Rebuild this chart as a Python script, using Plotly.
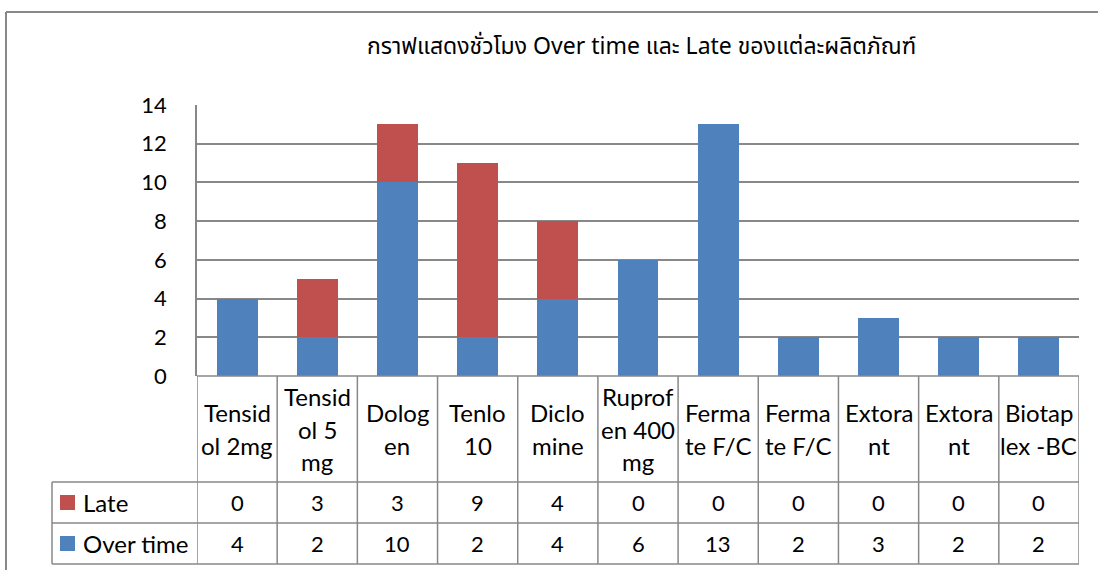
import plotly.graph_objects as go

# ---------------- data ----------------
categories = ["Tensid<br>ol 2mg", "Tensid<br>ol 5<br>mg", "Dolog<br>en", "Tenlo<br>10",
              "Diclo<br>mine", "Ruprof<br>en 400<br>mg", "Ferma<br>te F/C", "Ferma<br>te F/C",
              "Extora<br>nt", "Extora<br>nt", "Biotap<br>lex -BC"]
overtime = [4, 2, 10, 2, 4, 6, 13, 2, 3, 2, 2]
late = [0, 3, 3, 9, 4, 0, 0, 0, 0, 0, 0]
series_names = ["Late", "Over time"]
y_ticks = [0, 2, 4, 6, 8, 10, 12, 14]
title_text = "กราฟแสดงชั่วโมง Over time และ Late ของแต่ละผลิตภัณฑ์"

# ---------------- style ----------------
W, H = 1098, 570
BLUE = "#4F81BD"
RED = "#C0504D"
GRID = "#888888"
FONT = "Lato, Open Sans, sans-serif"
THAI = "Noto Sans Thai, Noto Sans, Tahoma, DejaVu Sans, sans-serif"


def py(p):  # pixel y -> paper y
    return 1 - p / H


def px(p):  # pixel x -> paper x
    return p / W


x_left, x_right = 197, 1079
y_top, y_zero = 105, 376
hdr_bot, late_bot, ot_bot = 482, 523, 564
leg_left = 52

xs = list(range(len(categories)))

fig = go.Figure()
fig.add_trace(go.Bar(x=xs, y=overtime, name=series_names[1], marker=dict(color=BLUE, line=dict(width=0))))
fig.add_trace(go.Bar(x=xs, y=late, name=series_names[0], marker=dict(color=RED, line=dict(width=0))))

shapes = []
annotations = []

# outer chart frame
shapes.append(dict(type="line", xref="paper", yref="paper", x0=px(6), x1=1.0, y0=py(12), y1=py(12),
                   line=dict(color=GRID, width=2)))
shapes.append(dict(type="line", xref="paper", yref="paper", x0=px(6), x1=px(6), y0=py(12), y1=0,
                   line=dict(color=GRID, width=2)))

# table horizontal lines
shapes.append(dict(type="line", xref="x", yref="paper", x0=-0.5, x1=len(xs) - 0.5, y0=py(y_zero), y1=py(y_zero),
                   line=dict(color=GRID, width=1.5)))
for yy in [hdr_bot, late_bot, ot_bot]:
    shapes.append(dict(type="line", xref="paper", yref="paper", x0=px(leg_left), x1=px(x_right),
                       y0=py(yy), y1=py(yy), line=dict(color=GRID, width=1.5)))
# table vertical lines
for i in range(len(xs) + 1):
    shapes.append(dict(type="line", xref="x", yref="paper", x0=i - 0.5, x1=i - 0.5,
                       y0=py(y_zero), y1=py(ot_bot), line=dict(color=GRID, width=1.5)))
shapes.append(dict(type="line", xref="paper", yref="paper", x0=px(leg_left), x1=px(leg_left),
                   y0=py(hdr_bot), y1=py(ot_bot), line=dict(color=GRID, width=1.5)))

# header category labels (line by line)
hdr_center = (y_zero + hdr_bot) / 2
spacing = 32.5
for i, lab in enumerate(categories):
    lines = lab.split("<br>")
    n = len(lines)
    for k, ln in enumerate(lines):
        yc = hdr_center + (k - (n - 1) / 2) * spacing
        annotations.append(dict(x=i, y=py(yc), xref="x", yref="paper", text=ln, showarrow=False,
                                xanchor="center", yanchor="middle",
                                font=dict(family=FONT, size=24, color="black")))

# row values and legend keys
rows = [(late, series_names[0], RED, (hdr_bot + late_bot) / 2),
        (overtime, series_names[1], BLUE, (late_bot + ot_bot) / 2)]
for vals, name, col, yc in rows:
    for i, v in enumerate(vals):
        annotations.append(dict(x=i, y=py(yc), xref="x", yref="paper", text=str(v), showarrow=False,
                                xanchor="center", yanchor="middle",
                                font=dict(family=FONT, size=22, color="black")))
    shapes.append(dict(type="rect", xref="paper", yref="paper", x0=px(60), x1=px(75),
                       y0=py(yc - 7.5), y1=py(yc + 7.5), fillcolor=col, line=dict(width=0)))
    annotations.append(dict(x=px(81), y=py(yc), xref="paper", yref="paper", text=name, showarrow=False,
                            xanchor="left", yanchor="middle",
                            font=dict(family=FONT, size=24, color="black")))

# title
annotations.append(dict(x=px(641), y=py(47), xref="paper", yref="paper", text=title_text,
                        showarrow=False, xanchor="center", yanchor="middle",
                        font=dict(family=THAI, size=23, color="black")))

fig.update_layout(
    width=W, height=H,
    margin=dict(l=0, r=0, t=0, b=0, pad=0, autoexpand=False),
    paper_bgcolor="white", plot_bgcolor="white",
    barmode="stack", bargap=0.49,
    showlegend=False,
    shapes=shapes, annotations=annotations,
    xaxis=dict(domain=[px(x_left), px(x_right)], range=[-0.5, len(xs) - 0.5], automargin=False,
               showticklabels=False, showgrid=False, zeroline=False, showline=False, fixedrange=True),
    yaxis=dict(domain=[py(y_zero), py(y_top)], range=[0, 14], tickvals=y_ticks, automargin=False,
               showgrid=True, gridcolor=GRID, gridwidth=1.5, zeroline=False,
               showline=True, linecolor=GRID, linewidth=1.5,
               ticks="", ticklabelstandoff=24,
               tickfont=dict(family=FONT, size=22, color="black"), fixedrange=True),
)

fig.write_html("out.html")
